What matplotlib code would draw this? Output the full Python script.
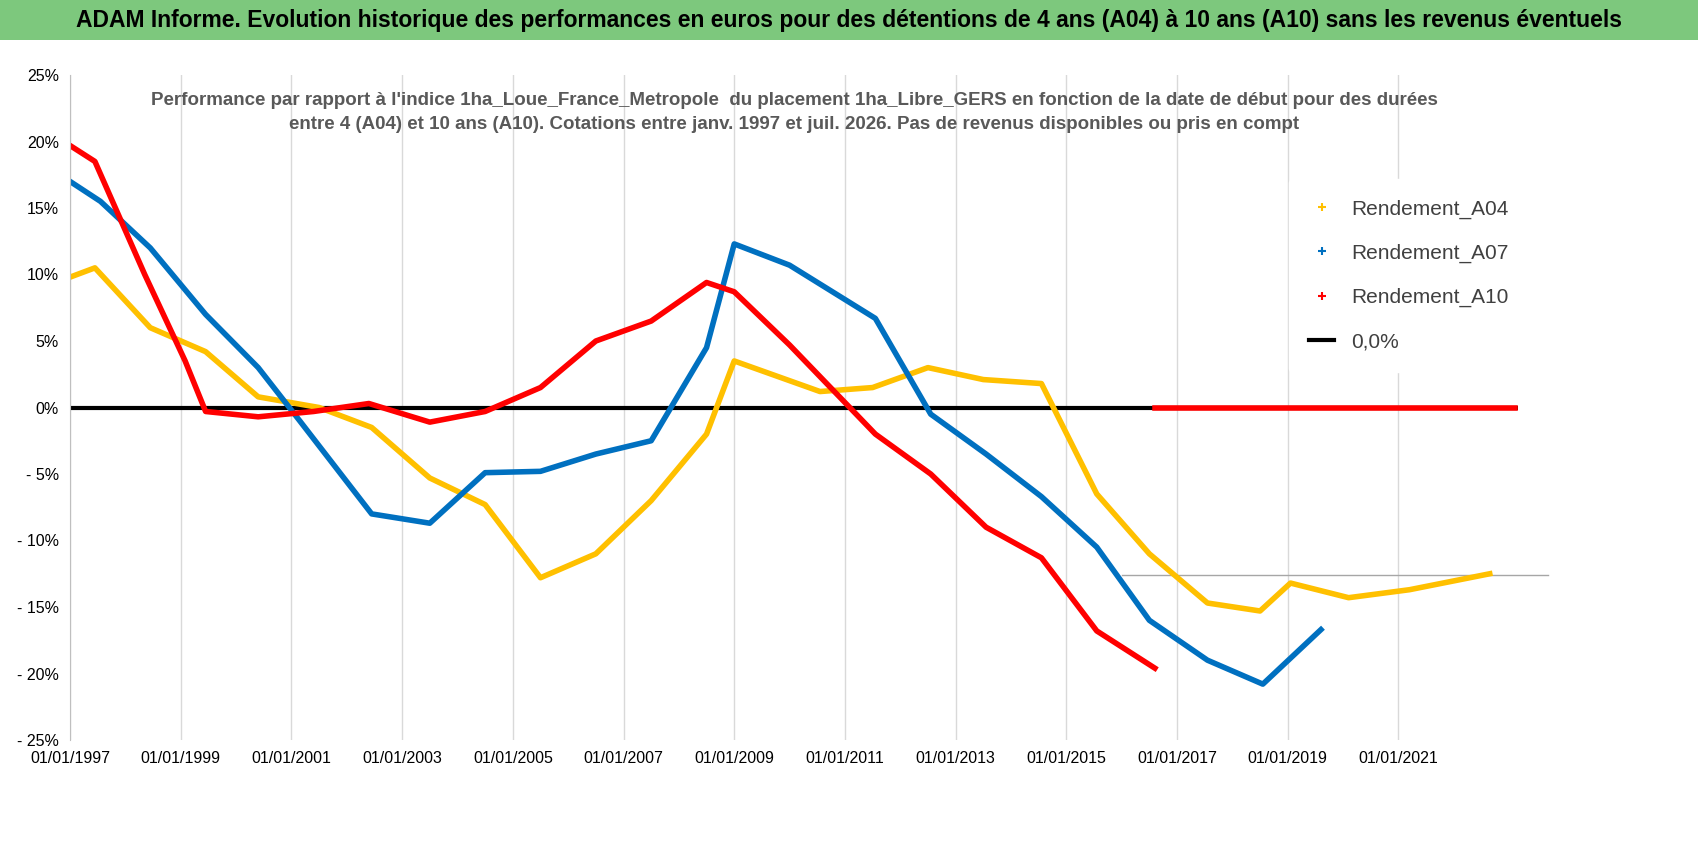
import matplotlib.pyplot as plt

plt.rcParams['font.family'] = ['Liberation Sans', 'DejaVu Sans']

# ----------------------------
# Data (start year, performance %)
# ----------------------------
A04_YEARS = [1997.0, 1997.45, 1998.45, 1999.45, 2000.4, 2001.5, 2002.45, 2003.5, 2004.5,
             2005.5, 2006.5, 2007.5, 2008.5, 2009.0, 2010.55, 2011.5, 2012.5, 2013.5,
             2014.55, 2015.55, 2016.5, 2017.55, 2018.5, 2019.05, 2020.1, 2021.2, 2022.65]
A04_VALUES = [9.8, 10.5, 6.0, 4.2, 0.8, 0.0, -1.5, -5.3, -7.3,
              -12.8, -11.0, -7.0, -2.0, 3.5, 1.2, 1.5, 3.0, 2.1,
              1.8, -6.5, -11.0, -14.7, -15.3, -13.2, -14.3, -13.7, -12.5]

A07_YEARS = [1997.0, 1997.55, 1998.45, 1999.45, 2000.4, 2001.15, 2002.45, 2003.5, 2004.5,
             2005.5, 2006.5, 2007.5, 2008.5, 2009.0, 2010.0, 2011.55, 2012.55, 2013.55,
             2014.55, 2015.55, 2016.5, 2017.55, 2018.55, 2019.6]
A07_VALUES = [17.0, 15.5, 12.0, 7.0, 3.0, -1.0, -8.0, -8.7, -4.9,
              -4.8, -3.5, -2.5, 4.5, 12.3, 10.7, 6.7, -0.5, -3.5,
              -6.7, -10.5, -16.0, -19.0, -20.8, -16.7]

A10_YEARS = [1997.0, 1997.45, 1998.35, 1999.08, 1999.45, 2000.4, 2001.4, 2002.4, 2003.5,
             2004.5, 2005.5, 2006.5, 2007.5, 2008.5, 2009.0, 2010.0, 2011.55, 2012.55,
             2013.55, 2014.55, 2015.55, 2016.6]
A10_VALUES = [19.7, 18.5, 10.0, 3.5, -0.3, -0.7, -0.3, 0.3, -1.1,
              -0.3, 1.5, 5.0, 6.5, 9.4, 8.7, 4.7, -2.0, -5.0,
              -9.0, -11.3, -16.8, -19.6]
# A10 after mid-2016: no 10-year window available -> drawn at 0
A10_TAIL_YEARS = [2016.6, 2023.1]
A10_TAIL_VALUES = [0.0, 0.0]

TICK_YEARS = list(range(1997, 2022, 2))
TICK_LABELS = [f"01/01/{y}" for y in TICK_YEARS]
Y_TICKS = [25, 20, 15, 10, 5, 0, -5, -10, -15, -20, -25]

W, H = 1698, 856
fig = plt.figure(figsize=(W / 100, H / 100), dpi=100)
fig.patch.set_facecolor("white")

# green title banner
fig.patches.append(plt.Rectangle((0, 1 - 40 / H), 1, 40 / H, transform=fig.transFigure,
                                 facecolor="#7DC87D", edgecolor="none"))
fig.text(0.5, 1 - 20 / H,
         "ADAM Informe. Evolution historique des performances en euros pour des détentions de 4 ans (A04) à 10 ans (A10) sans les revenus éventuels",
         fontsize=16.5, fontweight="bold", va="center", ha="center", color="black")

ax = fig.add_axes([70 / W, (H - 740) / H, (1518 - 70) / W, (740 - 75) / H])
ax.set_xlim(1997, 2023.16)
ax.set_ylim(-25, 25)

for y in TICK_YEARS:
    ax.axvline(y, color="#d9d9d9", lw=1, zorder=0)
ax.plot([2016.0, 2023.7], [-12.6, -12.6], color="#a6a6a6", lw=1, clip_on=False, zorder=0)

ax.plot(A04_YEARS, A04_VALUES, color="#FFC000", lw=4, label="Rendement_A04")
ax.plot(A07_YEARS, A07_VALUES, color="#0070C0", lw=4, label="Rendement_A07")
ax.plot(A10_YEARS, A10_VALUES, color="#FF0000", lw=4, label="Rendement_A10")
ax.axhline(0, color="black", lw=3, zorder=1, label="0,0%")
ax.plot(A10_TAIL_YEARS, A10_TAIL_VALUES, color="#FF0000", lw=4, zorder=3)

ax.set_xticks(TICK_YEARS)
ax.set_xticklabels(TICK_LABELS, fontsize=11.5)
ax.set_yticks(Y_TICKS)
ax.set_yticklabels([f"{v}%" if v >= 0 else f"- {abs(v)}%" for v in Y_TICKS], fontsize=11.5)
ax.tick_params(length=0, pad=8)
for s in ["top", "right", "bottom"]:
    ax.spines[s].set_visible(False)
ax.spines["left"].set_color("#bfbfbf")

ax.text(0.5, 0.975,
        "Performance par rapport à l'indice 1ha_Loue_France_Metropole  du placement 1ha_Libre_GERS en fonction de la date de début pour des durées\n"
        "entre 4 (A04) et 10 ans (A10). Cotations entre janv. 1997 et juil. 2026. Pas de revenus disponibles ou pris en compt",
        transform=ax.transAxes, ha="center", va="top", fontsize=13.5, fontweight="bold",
        color="#595959", linespacing=1.6)

leg = ax.legend(loc="upper right", bbox_to_anchor=(1.015, 0.86), fontsize=15, frameon=True,
                handlelength=1.2, labelspacing=1.2, borderpad=1.0, facecolor="white",
                edgecolor="white", framealpha=1)
for h in leg.get_lines()[:3]:
    h.set_linewidth(0)
    h.set_marker("+")
    h.set_markersize(6)
    h.set_markeredgewidth(1.5)
for t in leg.get_texts():
    t.set_color("#404040")

plt.savefig("out.png", dpi=100)
